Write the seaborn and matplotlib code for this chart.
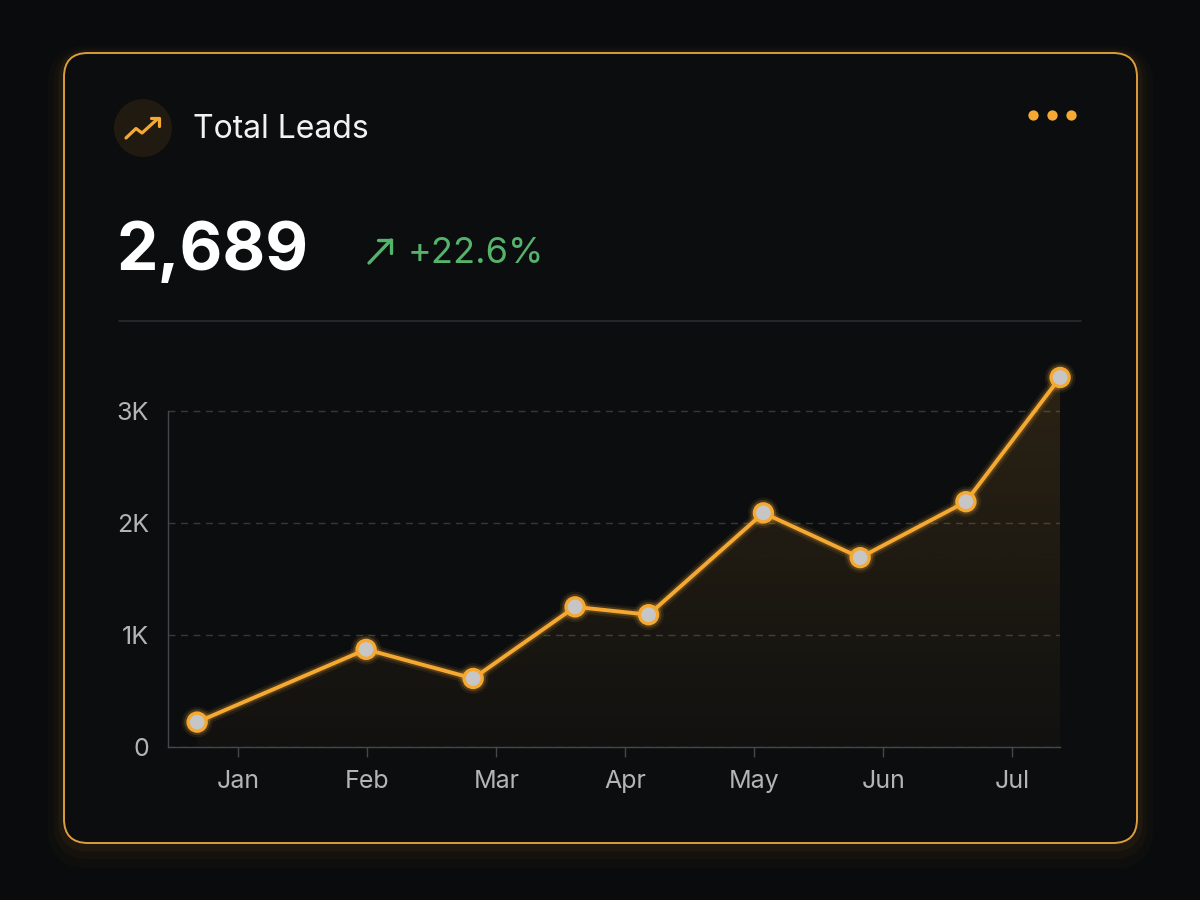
import numpy as np
import pandas as pd
import matplotlib.pyplot as plt
import seaborn as sns
import matplotlib.patheffects as pe
from matplotlib.patches import FancyBboxPatch, Circle
from matplotlib.colors import to_rgb

# values (x in months, 0 = Jan)
month_pos = [-0.32, 0.99, 1.82, 2.61, 3.18, 4.07, 4.82, 5.64, 6.37]
leads = [220, 870, 610, 1250, 1180, 2090, 1690, 2190, 3300]
month_labels = ['Jan', 'Feb', 'Mar', 'Apr', 'May', 'Jun', 'Jul']
y_ticks = [0, 1000, 2000, 3000]
y_labels = ['0', '1K', '2K', '3K']
title = 'Total Leads'
total_value = '2,689'
change_text = '+22.6%'

BG = '#0a0b0d'
CARD = '#0b0d0f'
ORANGE = '#f5a932'
GREEN = '#56b36b'
GRID = '#36383c'
SPINE = '#45474b'
TICK = '#b4b4b4'

sns.set_theme(style='dark')
plt.rcParams['font.family'] = ['Inter', 'DejaVu Sans']

fig = plt.figure(figsize=(12, 9), dpi=100)
fig.patch.set_facecolor(BG)

# --- card and header decoration, in pixel coords ---
deco = fig.add_axes([0, 0, 1, 1])
deco.set_xlim(0, 1200)
deco.set_ylim(900, 0)
deco.axis('off')

# soft glow, stronger towards the bottom
for lw, a, dy in [(24, 0.02, 9), (15, 0.03, 6), (8, 0.045, 3)]:
    deco.add_patch(FancyBboxPatch((64, 53 + dy), 1073, 790,
                                  boxstyle='round,pad=0,rounding_size=24',
                                  fc='none', ec=ORANGE, lw=lw, alpha=a))
deco.add_patch(FancyBboxPatch((64, 53), 1073, 790,
                              boxstyle='round,pad=0,rounding_size=24',
                              fc=CARD, ec='#dc9d3c', lw=1.4))

deco.plot([119, 1081], [321, 321], color='#2a2c30', lw=1.2)

# icon
deco.add_patch(Circle((143, 128), 29, fc='#201a11', ec='none'))
deco.plot([126, 136, 142, 158], [138, 128.5, 133, 118.5], color=ORANGE, lw=2.3,
          solid_capstyle='round', solid_joinstyle='round')
deco.plot([151, 159, 159], [117.5, 117.5, 125.5], color=ORANGE, lw=2.3,
          solid_capstyle='round', solid_joinstyle='round')

deco.text(193, 130, title, fontsize=23, color='#f2f2f2', va='center', ha='left')
deco.text(117, 270, total_value, fontsize=47.5, weight='bold', color='white',
          va='baseline', ha='left')

# green arrow + change
deco.plot([369, 391], [263, 240], color=GREEN, lw=2.4, solid_capstyle='round')
deco.plot([378, 391, 391], [240, 240, 253], color=GREEN, lw=2.4,
          solid_capstyle='round', solid_joinstyle='miter')
deco.text(408, 263, change_text, fontsize=26, color=GREEN, va='baseline', ha='left')

# menu dots
deco.scatter([1033, 1052, 1071], [115, 115, 115], s=55, color=ORANGE, lw=0)

# --- chart ---
ax = fig.add_axes([0.1403, 0.1703, 0.7431, 0.4227])
ax.set_facecolor('none')
ax.set_zorder(2)

df = pd.DataFrame({'month': month_pos, 'leads': leads})

# gradient area under the line
poly = ax.fill_between(df['month'], df['leads'], 0, color='none', lw=0)
grad = np.zeros((256, 1, 4))
grad[:, :, :3] = to_rgb(ORANGE)
grad[:, 0, 3] = np.linspace(0.14, 0.03, 256)
im = ax.imshow(grad, extent=[min(month_pos), max(month_pos), 0, max(leads)],
               aspect='auto', origin='upper', zorder=1)
im.set_clip_path(poly.get_paths()[0], transform=ax.transData)

sns.lineplot(data=df, x='month', y='leads', ax=ax, color=ORANGE, linewidth=2.8,
             marker='o', markersize=13, markerfacecolor='#c6c6c6',
             markeredgecolor=ORANGE, markeredgewidth=2.4, clip_on=False, zorder=5,
             path_effects=[pe.Stroke(linewidth=9, foreground=ORANGE, alpha=0.09),
                           pe.Stroke(linewidth=5.5, foreground=ORANGE, alpha=0.2),
                           pe.Normal()])

ax.set_xlim(-0.543, 6.37)
ax.set_ylim(0, 3400)
ax.set_xticks(range(len(month_labels)), month_labels)
ax.set_yticks(y_ticks, y_labels)
ax.set_xlabel('')
ax.set_ylabel('')

ax.xaxis.grid(False)
ax.yaxis.grid(True, color=GRID, linestyle=(0, (5, 4)), linewidth=1)
ax.set_axisbelow(True)

ax.tick_params(axis='x', bottom=True, length=7, width=1, color=SPINE,
               labelcolor=TICK, labelsize=18, pad=10)
ax.tick_params(axis='y', left=False, length=0, labelcolor=TICK, labelsize=18, pad=14)

for side in ['top', 'right']:
    ax.spines[side].set_visible(False)
for side in ['left', 'bottom']:
    ax.spines[side].set_visible(True)
    ax.spines[side].set_color(SPINE)
    ax.spines[side].set_linewidth(1)
ax.spines['left'].set_bounds(0, 3000)

fig.savefig('out.png', dpi=100, facecolor=BG)
